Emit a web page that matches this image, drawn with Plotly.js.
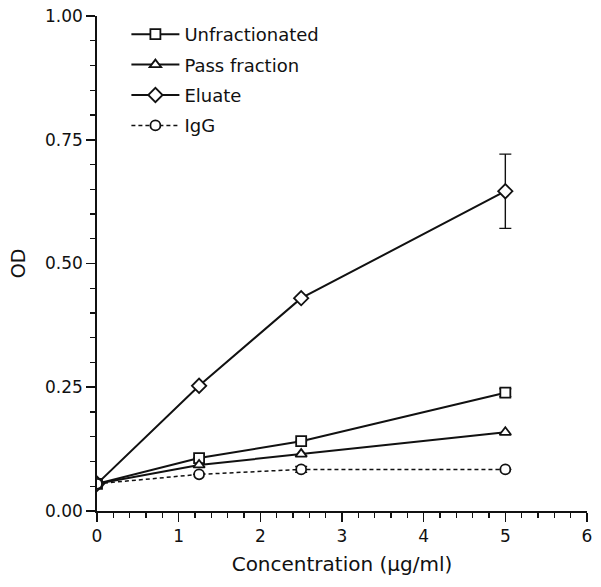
<!DOCTYPE html>
<html>
<head>
<meta charset="utf-8">
<script src="https://cdn.plot.ly/plotly-3.0.1.min.js"></script>
<style>
  html, body { margin: 0; padding: 0; background: #fff; }
  #chart { width: 601px; height: 587px; }
</style>
</head>
<body>
<div id="chart"></div>
<script>
// concentration (µg/ml) vs OD
const conc = [0, 1.25, 2.5, 5];

const unfractionated = [0.055, 0.107, 0.141, 0.239];
const unfractionatedErr = [0, 0, 0, 0.008];
const passFraction = [0.055, 0.093, 0.115, 0.159];
const eluate = [0.055, 0.253, 0.430, 0.646];
const eluateErr = [0, 0, 0, 0.075];
const igg = [0.055, 0.074, 0.084, 0.084];
const iggErr = [0, 0, 0.006, 0];

const seriesNames = ['Unfractionated', 'Pass fraction', 'Eluate', 'IgG'];

const ink = '#111';
const mk = (symbol, size) => ({
    symbol: symbol, size: size, color: '#fff',
    line: { color: ink, width: 1.8 }
});
const err = arr => ({
    type: 'data', array: arr, visible: true,
    color: ink, thickness: 1.4, width: 6
});

const traces = [
    {
        name: seriesNames[0], x: conc, y: unfractionated, legendgroup: 'a',
        mode: 'lines+markers', line: { color: ink, width: 2 },
        marker: mk('square', 10), error_y: err(unfractionatedErr)
    },
    {
        name: seriesNames[1], x: conc, y: passFraction, legendgroup: 'b',
        mode: 'lines+markers', line: { color: ink, width: 2 },
        marker: mk('triangle-up', 10)
    },
    {
        name: seriesNames[2], x: conc, y: eluate, legendgroup: 'c',
        mode: 'lines+markers', line: { color: ink, width: 2 },
        marker: mk('diamond', 11), error_y: err(eluateErr)
    },
    {
        name: seriesNames[3], x: conc, y: igg, legendgroup: 'd',
        mode: 'lines+markers', line: { color: ink, width: 1.5, dash: '4px,3px' },
        marker: mk('circle', 10), error_y: err(iggErr)
    }
];

const fam = 'DejaVu Sans, Arial, sans-serif';

const layout = {
    width: 601, height: 587,
    paper_bgcolor: '#fff', plot_bgcolor: '#fff',
    margin: { l: 97, r: 14, t: 16, b: 76 },
    font: { family: fam, color: ink, size: 17 },
    showlegend: true,
    legend: {
        x: 0.06, y: 1.0, xanchor: 'left', yanchor: 'top',
        bgcolor: 'rgba(0,0,0,0)', font: { size: 18, color: ink, family: fam },
        itemwidth: 48, tracegroupgap: 4
    },
    xaxis: {
        range: [0, 6], dtick: 1, tick0: 0,
        showgrid: false, zeroline: false,
        showline: true, linecolor: ink, linewidth: 1.8,
        ticks: 'outside', ticklen: 9, tickwidth: 1.6, tickcolor: ink,
        minor: { dtick: 0.2, ticks: 'outside', ticklen: 5, tickwidth: 1.3, tickcolor: ink },
        tickfont: { size: 17 },
        title: { text: 'Concentration (µg/ml)', font: { size: 20 }, standoff: 12 }
    },
    yaxis: {
        range: [0, 1], dtick: 0.25, tick0: 0, tickformat: '.2f',
        showgrid: false, zeroline: false,
        showline: true, linecolor: ink, linewidth: 1.8,
        ticks: 'outside', ticklen: 9, tickwidth: 1.6, tickcolor: ink,
        minor: { dtick: 0.05, ticks: 'outside', ticklen: 5, tickwidth: 1.3, tickcolor: ink },
        tickfont: { size: 17 },
        title: { text: 'OD', font: { size: 19 }, standoff: 14 }
    }
};

Plotly.newPlot('chart', traces, layout, { staticPlot: true, displayModeBar: false });
</script>
</body>
</html>
